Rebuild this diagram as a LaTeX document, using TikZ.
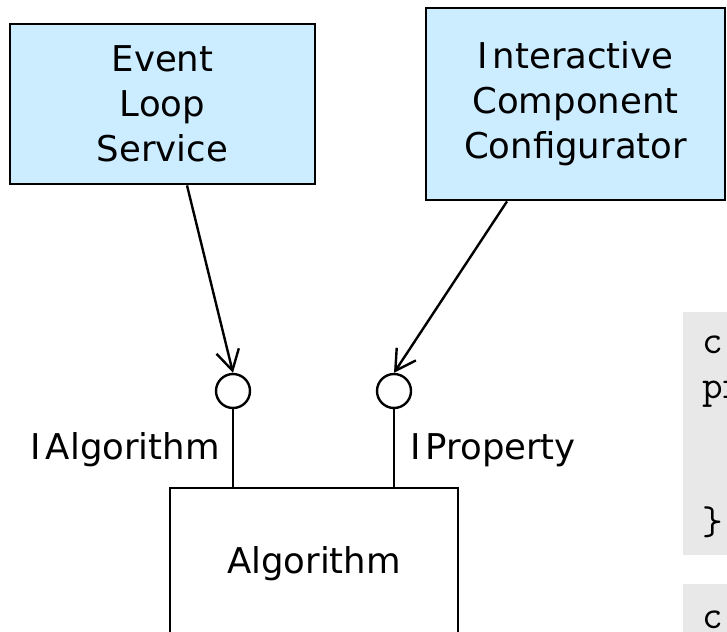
\documentclass[tikz,border=0pt]{standalone}
\usepackage{fontspec}
\setmainfont{DejaVu Sans}
\usetikzlibrary{arrows.meta}
\definecolor{compblue}{RGB}{204,236,255}
\definecolor{codegray}{RGB}{232,232,232}
\newcommand{\ispc}{I\kern5pt}
\begin{document}
\begin{tikzpicture}[x=1pt,y=-1pt,
  comp/.style={draw=black, line width=2.8pt, fill=compblue, align=center,
    inner sep=0pt, font=\fontsize{35.5}{45}\selectfont},
  impl/.style={draw=black, line width=2.8pt, fill=white, inner sep=0pt,
    font=\fontsize{35.5}{45}\selectfont},
  lollipop/.style={circle, draw=black, line width=2.4pt, fill=white,
    minimum size=34pt, inner sep=0pt},
  stem/.style={line width=2.4pt},
  dep/.style={line width=2.4pt, -{Straight Barb[length=20pt,width=23pt]}},
  lbl/.style={inner sep=0pt, font=\fontsize{35.5}{45}\selectfont},
  codebox/.style={fill=codegray, inner sep=0pt},
  codetxt/.style={inner sep=0pt, font=\ttfamily\fontsize{40}{45}\selectfont}]
\useasboundingbox (0,0) rectangle (727,631);

% components
\node[comp, minimum width=305pt, minimum height=160pt] (evl) at (162.5,104)
  {Event\\Loop\\Service};
\node[comp, minimum width=299pt, minimum height=192pt] (icc) at (575.5,104)
  {\ispc nteractive\\Component\\Configurator};
\node[impl, minimum width=288pt, minimum height=152pt] (alg) at (314,564)
  {Algorithm};

% provided interfaces
\node[lollipop] (ialg) at (233,391) {};
\node[lollipop] (iprop) at (394,391) {};
\draw[stem] (ialg.south) -- (ialg.south |- alg.north);
\draw[stem] (iprop.south) -- (iprop.south |- alg.north);
\node[lbl, anchor=base east] (lalg) at (220,459) {\ispc Algorithm};
\node[lbl, anchor=base west] (lprop) at (410,459) {\ispc Property};

% usage dependencies
\draw[dep] ([xshift=24.5pt]evl.south) -- (ialg.north);
\draw[dep] ([xshift=-68.5pt]icc.south) -- (iprop.north);

% code listings
\node[codebox, minimum width=80pt, minimum height=243pt, anchor=north west]
  (cb1) at (683,312) {};
\node[codebox, minimum width=80pt, minimum height=80pt, anchor=north west]
  (cb2) at (683,584) {};
\node[codetxt, anchor=base west] (c1) at (702,353) {c};
\node[codetxt, anchor=base west] (c2) at (702,398) {pr};
\node[codetxt, anchor=base west] (c3) at (702,534) {\}};
\node[codetxt, anchor=base west] (c4) at (702,628) {c};
\end{tikzpicture}
\end{document}
